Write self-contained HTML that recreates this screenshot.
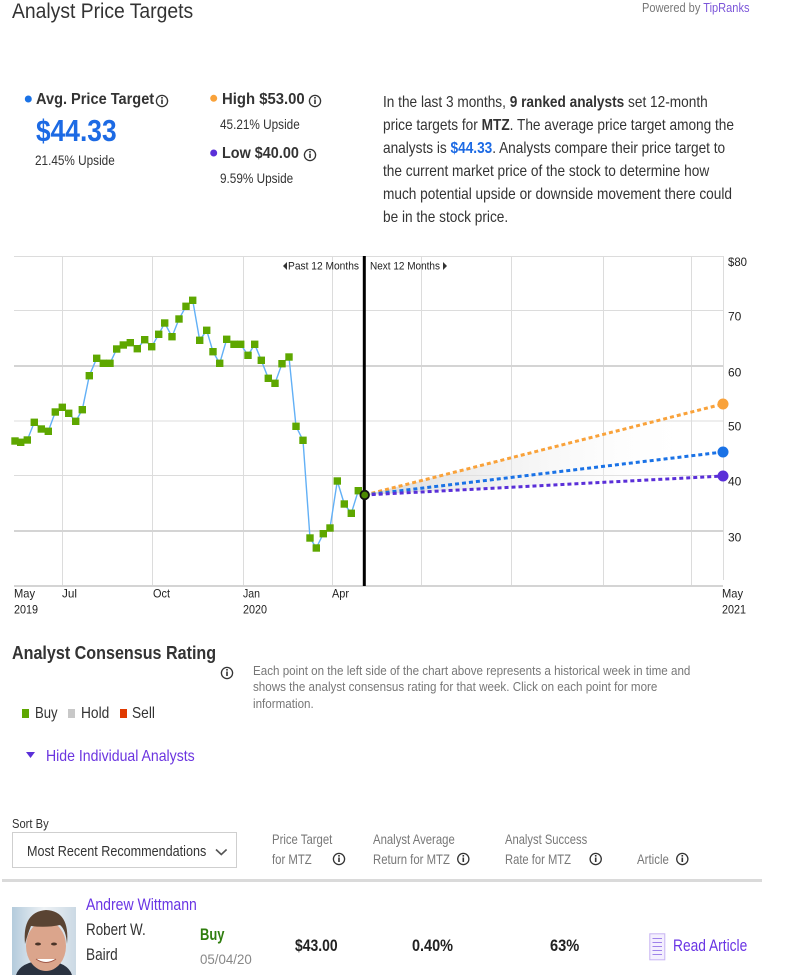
<!DOCTYPE html>
<html><head><meta charset="utf-8">
<style>
html,body{margin:0;padding:0;background:#fff;}
body{width:803px;height:975px;position:relative;overflow:hidden;font-family:"Liberation Sans",Arial,sans-serif;color:#333;}
.t{position:absolute;white-space:nowrap;transform-origin:0 0;}
svg{position:absolute;left:0;top:0;}
</style></head><body>

<svg width="803" height="975" viewBox="0 0 803 975">
<defs>
<linearGradient id="sh" x1="365" y1="0" x2="700" y2="0" gradientUnits="userSpaceOnUse">
<stop offset="0" stop-color="#d6d6d6" stop-opacity="0.9"/>
<stop offset="1" stop-color="#ffffff" stop-opacity="0"/>
</linearGradient>
<linearGradient id="bg" x1="0" y1="0" x2="1" y2="0">
<stop offset="0" stop-color="#b4cbdc"/><stop offset="0.5" stop-color="#eef2f5"/><stop offset="1" stop-color="#cbd9e4"/>
</linearGradient>
</defs>
<!-- gridlines -->
<g stroke="#dcdcdc" stroke-width="1">
<line x1="14" y1="256.5" x2="723" y2="256.5"/>
<line x1="14" y1="310.5" x2="723" y2="310.5"/>
<line x1="14" y1="421" x2="723" y2="421"/>
<line x1="14" y1="475.5" x2="723" y2="475.5"/>
<line x1="62.5" y1="256" x2="62.5" y2="586"/>
<line x1="152.5" y1="256" x2="152.5" y2="586"/>
<line x1="243.5" y1="256" x2="243.5" y2="586"/>
<line x1="332.5" y1="256" x2="332.5" y2="586"/>
<line x1="421.5" y1="256" x2="421.5" y2="586"/>
<line x1="511.5" y1="256" x2="511.5" y2="586"/>
<line x1="603.5" y1="256" x2="603.5" y2="586"/>
<line x1="691.5" y1="256" x2="691.5" y2="586"/>
<line x1="723.5" y1="256" x2="723.5" y2="580"/>
</g>
<g stroke="#d4d4d4" stroke-width="2">
<line x1="14" y1="366" x2="723" y2="366"/>
<line x1="14" y1="531" x2="723" y2="531"/>
<line x1="14" y1="586" x2="723" y2="586"/>
</g>
<!-- shaded projection -->
<polygon points="364.7,495 723,404 723,476" fill="url(#sh)"/>
<!-- price line -->
<polyline fill="none" stroke="#62b0f6" stroke-width="1.4" points="15,441 20.7,442.3 27.3,440 34.3,422.3 41.3,429 48.3,431.3 55.3,412 62.3,407.3 68.7,413.3 75.7,421.3 82.3,409.7 89.3,375.7 96.7,358.3 103.3,363.3 110,363.3 116.7,349 123.3,345 130.3,342.7 137.3,348.7 144.7,339.7 151.7,346.7 158.7,334.3 164.7,323 172,336.7 179,319 186,306.3 192.7,300.3 199.7,340.3 206.7,330.3 213,351.7 219.7,363.3 226.7,339.3 234,344.3 240.7,344.3 248,355.3 254.7,344.3 261.3,360.3 268.3,378.3 275,383.3 282,363.7 289,357 296,426.3 303,440.3 310,538 316.3,548 323.3,533.7 330,528 337.3,481 344.3,504 351.3,513.3 358.3,490.7 364.7,495"/>
<!-- squares -->
<g fill="#5ea700">
<rect x="11.3" y="437.3" width="7.4" height="7.4"/>
<rect x="17" y="438.6" width="7.4" height="7.4"/>
<rect x="23.6" y="436.3" width="7.4" height="7.4"/>
<rect x="30.6" y="418.6" width="7.4" height="7.4"/>
<rect x="37.6" y="425.3" width="7.4" height="7.4"/>
<rect x="44.6" y="427.6" width="7.4" height="7.4"/>
<rect x="51.6" y="408.3" width="7.4" height="7.4"/>
<rect x="58.6" y="403.6" width="7.4" height="7.4"/>
<rect x="65" y="409.6" width="7.4" height="7.4"/>
<rect x="72" y="417.6" width="7.4" height="7.4"/>
<rect x="78.6" y="406" width="7.4" height="7.4"/>
<rect x="85.6" y="372" width="7.4" height="7.4"/>
<rect x="93" y="354.6" width="7.4" height="7.4"/>
<rect x="99.6" y="359.6" width="7.4" height="7.4"/>
<rect x="106.3" y="359.6" width="7.4" height="7.4"/>
<rect x="113" y="345.3" width="7.4" height="7.4"/>
<rect x="119.6" y="341.3" width="7.4" height="7.4"/>
<rect x="126.6" y="339" width="7.4" height="7.4"/>
<rect x="133.6" y="345" width="7.4" height="7.4"/>
<rect x="141" y="336" width="7.4" height="7.4"/>
<rect x="148" y="343" width="7.4" height="7.4"/>
<rect x="155" y="330.6" width="7.4" height="7.4"/>
<rect x="161" y="319.3" width="7.4" height="7.4"/>
<rect x="168.3" y="333" width="7.4" height="7.4"/>
<rect x="175.3" y="315.3" width="7.4" height="7.4"/>
<rect x="182.3" y="302.6" width="7.4" height="7.4"/>
<rect x="189" y="296.6" width="7.4" height="7.4"/>
<rect x="196" y="336.6" width="7.4" height="7.4"/>
<rect x="203" y="326.6" width="7.4" height="7.4"/>
<rect x="209.3" y="348" width="7.4" height="7.4"/>
<rect x="216" y="359.6" width="7.4" height="7.4"/>
<rect x="223" y="335.6" width="7.4" height="7.4"/>
<rect x="230.3" y="340.6" width="7.4" height="7.4"/>
<rect x="237" y="340.6" width="7.4" height="7.4"/>
<rect x="244.3" y="351.6" width="7.4" height="7.4"/>
<rect x="251" y="340.6" width="7.4" height="7.4"/>
<rect x="257.6" y="356.6" width="7.4" height="7.4"/>
<rect x="264.6" y="374.6" width="7.4" height="7.4"/>
<rect x="271.3" y="379.6" width="7.4" height="7.4"/>
<rect x="278.3" y="360" width="7.4" height="7.4"/>
<rect x="285.3" y="353.3" width="7.4" height="7.4"/>
<rect x="292.3" y="422.6" width="7.4" height="7.4"/>
<rect x="299.3" y="436.6" width="7.4" height="7.4"/>
<rect x="306.3" y="534.3" width="7.4" height="7.4"/>
<rect x="312.6" y="544.3" width="7.4" height="7.4"/>
<rect x="319.6" y="530" width="7.4" height="7.4"/>
<rect x="326.3" y="524.3" width="7.4" height="7.4"/>
<rect x="333.6" y="477.3" width="7.4" height="7.4"/>
<rect x="340.6" y="500.3" width="7.4" height="7.4"/>
<rect x="347.6" y="509.6" width="7.4" height="7.4"/>
<rect x="354.6" y="487" width="7.4" height="7.4"/>
</g>
<!-- projection lines -->
<line x1="364.7" y1="495" x2="723" y2="404" stroke="#f9a23a" stroke-width="3" stroke-dasharray="4,3"/>
<line x1="364.7" y1="495" x2="723" y2="452" stroke="#1a72e6" stroke-width="3" stroke-dasharray="4,3"/>
<line x1="364.7" y1="495" x2="723" y2="476" stroke="#5a2fd8" stroke-width="3" stroke-dasharray="4,3"/>
<!-- black divider -->
<rect x="362.8" y="256" width="3" height="330" fill="#000"/>
<circle cx="364.7" cy="495" r="4.3" fill="#4c8a00" stroke="#111" stroke-width="1.8"/>
<circle cx="723" cy="404" r="5.5" fill="#f9a23a"/>
<circle cx="723" cy="452" r="5.5" fill="#1a72e6"/>
<circle cx="723" cy="476" r="5.5" fill="#5a2fd8"/>
<!-- chart labels -->
<g font-family="Liberation Sans, Arial, sans-serif" font-size="11" fill="#222">
<text x="288" y="269.5" textLength="71" lengthAdjust="spacingAndGlyphs">Past 12 Months</text>
<text x="370" y="269.5" textLength="70" lengthAdjust="spacingAndGlyphs">Next 12 Months</text>
</g>
<polygon points="287,262 287,270 283,266" fill="#333"/>
<polygon points="443,262 443,270 447,266" fill="#333"/>
<g font-family="Liberation Sans, Arial, sans-serif" font-size="12" fill="#222">
<text x="728" y="266" textLength="19" lengthAdjust="spacingAndGlyphs">$80</text>
<text x="728" y="320.5">70</text>
<text x="728" y="376.5">60</text>
<text x="728" y="430.5">50</text>
<text x="728" y="485.5">40</text>
<text x="728" y="541.5">30</text>
<text x="14" y="597.5" textLength="21" lengthAdjust="spacingAndGlyphs">May</text>
<text x="14" y="613.5" textLength="24" lengthAdjust="spacingAndGlyphs">2019</text>
<text x="62" y="597.5" textLength="15" lengthAdjust="spacingAndGlyphs">Jul</text>
<text x="153" y="597.5" textLength="17" lengthAdjust="spacingAndGlyphs">Oct</text>
<text x="243" y="597.5" textLength="17" lengthAdjust="spacingAndGlyphs">Jan</text>
<text x="243" y="613.5" textLength="24" lengthAdjust="spacingAndGlyphs">2020</text>
<text x="332" y="597.5" textLength="17" lengthAdjust="spacingAndGlyphs">Apr</text>
<text x="722" y="597.5" textLength="21" lengthAdjust="spacingAndGlyphs">May</text>
<text x="722" y="613.5" textLength="24" lengthAdjust="spacingAndGlyphs">2021</text>
</g>

<!-- header dots -->
<circle cx="28.3" cy="99" r="3.5" fill="#1a72e6"/>
<circle cx="213.7" cy="98.3" r="3.5" fill="#f9a23a"/>
<circle cx="213.7" cy="153" r="3.5" fill="#5a2fd8"/>

<!-- info icons -->
<g fill="none" stroke="#333" stroke-width="1.3">
<circle cx="162" cy="101" r="5.6"/>
<circle cx="315" cy="101" r="5.6"/>
<circle cx="310" cy="155" r="5.6"/>
<circle cx="227" cy="673" r="5.6"/>
<circle cx="339" cy="859" r="5.6"/>
<circle cx="463.3" cy="859" r="5.6"/>
<circle cx="595.7" cy="859" r="5.6"/>
<circle cx="682.3" cy="859" r="5.6"/>
</g>
<g fill="#333">
<rect x="161.2" y="99.5" width="1.6" height="4.5"/><rect x="161.2" y="97" width="1.6" height="1.6"/>
<rect x="314.2" y="99.5" width="1.6" height="4.5"/><rect x="314.2" y="97" width="1.6" height="1.6"/>
<rect x="309.2" y="153.5" width="1.6" height="4.5"/><rect x="309.2" y="151" width="1.6" height="1.6"/>
<rect x="226.2" y="671.5" width="1.6" height="4.5"/><rect x="226.2" y="669" width="1.6" height="1.6"/>
<rect x="338.2" y="857.5" width="1.6" height="4.5"/><rect x="338.2" y="855" width="1.6" height="1.6"/>
<rect x="462.5" y="857.5" width="1.6" height="4.5"/><rect x="462.5" y="855" width="1.6" height="1.6"/>
<rect x="594.9" y="857.5" width="1.6" height="4.5"/><rect x="594.9" y="855" width="1.6" height="1.6"/>
<rect x="681.5" y="857.5" width="1.6" height="4.5"/><rect x="681.5" y="855" width="1.6" height="1.6"/>
</g>

<!-- legend squares -->
<rect x="22" y="709" width="7" height="9" fill="#5ea700"/>
<rect x="68" y="709" width="7" height="9" fill="#c8c8c8"/>
<rect x="120" y="709" width="7" height="9" fill="#e03a00"/>
<polygon points="26,752 35,752 30.5,758" fill="#5a2fd8"/>

<!-- sort box -->
<rect x="12.5" y="832.5" width="224" height="35" fill="#fff" stroke="#cfcfcf" stroke-width="1"/>
<polyline points="216,849.5 221.3,854.5 226.6,849.5" fill="none" stroke="#555" stroke-width="1.6"/>
<rect x="2" y="879" width="760" height="3" fill="#dadada"/>

<!-- photo -->
<rect x="12" y="907" width="64" height="68" fill="url(#bg)"/>
<path d="M16 975 Q20 962 44 960 Q68 962 72 975 Z" fill="#2a3240"/>
<ellipse cx="46" cy="946" rx="20" ry="25" fill="#dba58c"/>
<path d="M25 944 Q22 912 46 910 Q70 911 67 944 Q66 930 60 925 Q46 928 31 926 Q28 933 25 944 Z" fill="#5a4433"/>
<ellipse cx="38" cy="944" rx="3" ry="1.5" fill="#4a3428"/>
<ellipse cx="54" cy="944" rx="3" ry="1.5" fill="#4a3428"/>
<path d="M36 959 Q46 966 56 959" fill="#fff" stroke="#a05848" stroke-width="1"/>
<!-- doc icon -->
<rect x="649.8" y="933.8" width="15" height="26" fill="#f4effe" stroke="#c7b3f3" stroke-width="1"/>
<g stroke="#9f82ea" stroke-width="1"><line x1="652.5" y1="938.5" x2="662" y2="938.5"/><line x1="652.5" y1="942.5" x2="662" y2="942.5"/><line x1="652.5" y1="946.5" x2="662" y2="946.5"/><line x1="652.5" y1="950.5" x2="662" y2="950.5"/><line x1="652.5" y1="954.5" x2="662" y2="954.5"/></g>
</svg>

<div class="t" style="left:12px;top:0px;font-size:21px;line-height:24px;color:#333;transform:scaleX(0.92);">Analyst Price Targets</div>
<div class="t" style="left:642px;top:0px;font-size:13px;line-height:16px;color:#777;transform:scaleX(0.85);">Powered by <span style="color:#7b55d9">TipRanks</span></div>

<div class="t" style="left:36px;top:90px;font-size:16px;line-height:20px;font-weight:bold;color:#333;transform:scaleX(0.91);">Avg. Price Target</div>
<div class="t" style="left:35.5px;top:113px;font-size:31px;line-height:36px;font-weight:bold;color:#1c6ae4;transform:scaleX(0.85);">$44.33</div>
<div class="t" style="left:35px;top:150.5px;font-size:14px;line-height:18px;color:#333;transform:scaleX(0.84);">21.45% Upside</div>

<div class="t" style="left:222px;top:90px;font-size:16px;line-height:20px;font-weight:bold;color:#333;transform:scaleX(0.93);">High $53.00</div>
<div class="t" style="left:220px;top:114.5px;font-size:14px;line-height:18px;color:#333;transform:scaleX(0.84);">45.21% Upside</div>
<div class="t" style="left:222px;top:144px;font-size:16px;line-height:20px;font-weight:bold;color:#333;transform:scaleX(0.9);">Low $40.00</div>
<div class="t" style="left:220px;top:169px;font-size:14px;line-height:18px;color:#333;transform:scaleX(0.84);">9.59% Upside</div>

<div class="t" style="left:383px;top:91px;font-size:16px;line-height:23px;color:#333;transform:scaleX(0.853);">In the last 3 months, <b>9 ranked analysts</b> set 12-month<br>price targets for <b>MTZ</b>. The average price target among the<br>analysts is <b style="color:#1c6ae4">$44.33</b>. Analysts compare their price target to<br>the current market price of the stock to determine how<br>much potential upside or downside movement there could<br>be in the stock price.</div>

<div class="t" style="left:12px;top:642px;font-size:18px;line-height:22px;font-weight:bold;color:#333;transform:scaleX(0.895);">Analyst Consensus Rating</div>
<div class="t" style="left:252.5px;top:662.7px;font-size:13px;line-height:16.7px;color:#777;transform:scaleX(0.894);">Each point on the left side of the chart above represents a historical week in time and<br>shows the analyst consensus rating for that week. Click on each point for more<br>information.</div>

<div class="t" style="left:34.5px;top:703.5px;font-size:16px;line-height:20px;color:#333;transform:scaleX(0.82);">Buy</div>
<div class="t" style="left:80.5px;top:703.5px;font-size:16px;line-height:20px;color:#333;transform:scaleX(0.86);">Hold</div>
<div class="t" style="left:132px;top:703.5px;font-size:16px;line-height:20px;color:#333;transform:scaleX(0.86);">Sell</div>
<div class="t" style="left:45.5px;top:746.5px;font-size:16px;line-height:20px;color:#6b35e0;transform:scaleX(0.88);">Hide Individual Analysts</div>

<div class="t" style="left:12px;top:815.5px;font-size:13px;line-height:16px;color:#333;transform:scaleX(0.86);">Sort By</div>
<div class="t" style="left:26.7px;top:843px;font-size:15px;line-height:18px;color:#333;transform:scaleX(0.84);">Most Recent Recommendations</div>

<div class="t" style="left:271.5px;top:830.5px;font-size:14px;line-height:17.5px;color:#777;transform:scaleX(0.81);">Price Target</div>
<div class="t" style="left:271.5px;top:850.5px;font-size:14px;line-height:17.5px;color:#777;transform:scaleX(0.81);">for MTZ</div>
<div class="t" style="left:373px;top:830.5px;font-size:14px;line-height:17.5px;color:#777;transform:scaleX(0.81);">Analyst Average</div>
<div class="t" style="left:373px;top:850.5px;font-size:14px;line-height:17.5px;color:#777;transform:scaleX(0.81);">Return for MTZ</div>
<div class="t" style="left:505px;top:830.5px;font-size:14px;line-height:17.5px;color:#777;transform:scaleX(0.8);">Analyst Success</div>
<div class="t" style="left:505px;top:850.5px;font-size:14px;line-height:17.5px;color:#777;transform:scaleX(0.8);">Rate for MTZ</div>
<div class="t" style="left:636.7px;top:850.5px;font-size:14px;line-height:17.5px;color:#777;transform:scaleX(0.82);">Article</div>

<div class="t" style="left:86px;top:894.5px;font-size:17px;line-height:20px;color:#6a35e4;transform:scaleX(0.826);">Andrew Wittmann</div>
<div class="t" style="left:86px;top:919.5px;font-size:17px;line-height:20px;color:#333;transform:scaleX(0.79);">Robert W.</div>
<div class="t" style="left:86px;top:944.5px;font-size:17px;line-height:20px;color:#333;transform:scaleX(0.8);">Baird</div>
<div class="t" style="left:200px;top:925px;font-size:17px;line-height:20px;font-weight:bold;color:#2f7d0e;transform:scaleX(0.76);">Buy</div>
<div class="t" style="left:200px;top:949.5px;font-size:14px;line-height:18px;color:#888;transform:scaleX(0.95);">05/04/20</div>
<div class="t" style="left:295px;top:936px;font-size:17px;line-height:20px;font-weight:bold;color:#222;transform:scaleX(0.82);">$43.00</div>
<div class="t" style="left:412px;top:936px;font-size:17px;line-height:20px;font-weight:bold;color:#222;transform:scaleX(0.85);">0.40%</div>
<div class="t" style="left:550px;top:936px;font-size:17px;line-height:20px;font-weight:bold;color:#222;transform:scaleX(0.86);">63%</div>
<div class="t" style="left:673px;top:936px;font-size:17px;line-height:20px;color:#6a35e4;transform:scaleX(0.81);">Read Article</div>

</body></html>
